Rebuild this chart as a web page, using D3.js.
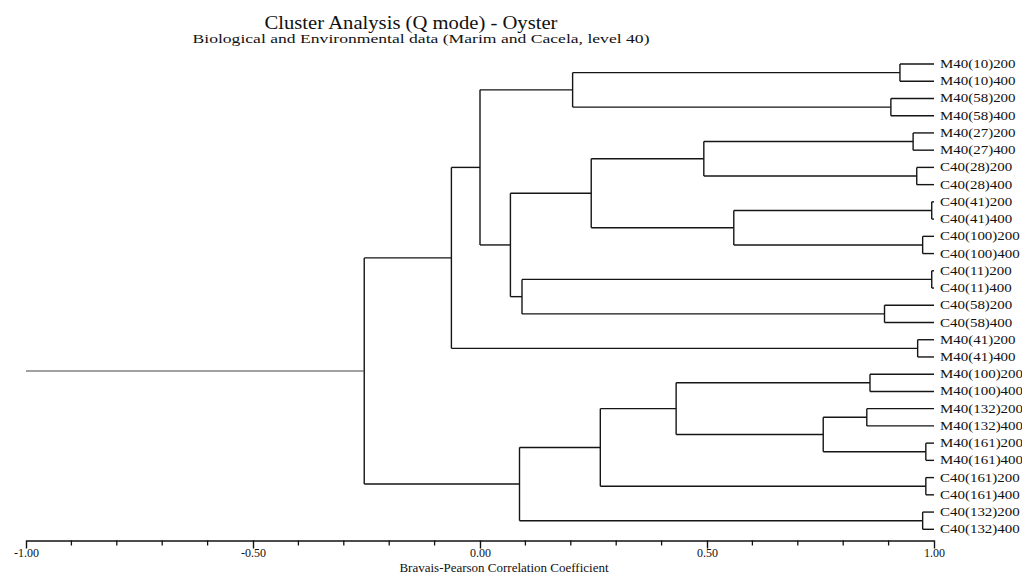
<!DOCTYPE html>
<html><head><meta charset="utf-8">
<script src="https://cdn.jsdelivr.net/npm/d3@7"></script>
<style>
html,body{margin:0;padding:0;background:#fff;}
text{font-family:"Liberation Serif","Times New Roman",serif;fill:#111;}
</style></head>
<body>
<svg id="chart" width="1022" height="580"></svg>
<script>
// ---- data ----
const title = "Cluster Analysis (Q mode) - Oyster";
const subtitle = "Biological and Environmental data (Marim and Cacela, level 40)";
const axisTitle = "Bravais-Pearson Correlation Coefficient";
const leaves = ["M40(10)200","M40(10)400","M40(58)200","M40(58)400","M40(27)200","M40(27)400",
  "C40(28)200","C40(28)400","C40(41)200","C40(41)400","C40(100)200","C40(100)400",
  "C40(11)200","C40(11)400","C40(58)200","C40(58)400","M40(41)200","M40(41)400",
  "M40(100)200","M40(100)400","M40(132)200","M40(132)400","M40(161)200","M40(161)400",
  "C40(161)200","C40(161)400","C40(132)200","C40(132)400"];
// merge i joins mergeA[i] and mergeB[i] (leaf name or "#k" = merge k) at correlation mergeLevel[i]
const mergeA = ["M40(10)200","M40(58)200","M40(27)200","C40(28)200","C40(41)200","C40(100)200",
  "C40(11)200","C40(58)200","M40(41)200","M40(100)200","M40(132)200","M40(161)200","C40(161)200","C40(132)200",
  "#0","#2","#4","#15","#6","#17","#14","#20","#10","#9","#23","#24","#21"];
const mergeB = ["M40(10)400","M40(58)400","M40(27)400","C40(28)400","C40(41)400","C40(100)400",
  "C40(11)400","C40(58)400","M40(41)400","M40(100)400","M40(132)400","M40(161)400","C40(161)400","C40(132)400",
  "#1","#3","#5","#16","#7","#18","#19","#8","#11","#22","#12","#13","#25"];
const mergeLevel = [0.925,0.905,0.954,0.962,0.995,0.975,0.995,0.891,0.964,0.859,0.852,0.982,0.982,0.975,
  0.204,0.493,0.559,0.245,0.0925,0.067,0.000,-0.063,0.756,0.432,0.265,0.087,-0.255];
const leafLevel = 1.0;
const rootStart = -1.0;
const majorTicks = [-1.0,-0.5,0.0,0.5,1.0];
const minorTicks = [-0.9,-0.8,-0.7,-0.6,-0.4,-0.3,-0.2,-0.1,0.1,0.2,0.3,0.4,0.6,0.7,0.8,0.9];

// ---- build tree ----
function build(ref){
  if (ref[0] === "#") {
    const k = +ref.slice(1);
    return {name: ref, level: mergeLevel[k], children: [build(mergeA[k]), build(mergeB[k])]};
  }
  return {name: ref, level: leafLevel};
}
const rootData = build("#" + (mergeLevel.length - 1));
const root = d3.hierarchy(rootData);

const svg = d3.select("#chart");
const x = d3.scaleLinear().domain([-1, 1]).range([26, 934]);
const y = d3.scalePoint().domain(leaves).range([64, 529.3]);

root.eachAfter(n => {
  if (!n.children) n.py = y(n.data.name);
  else n.py = d3.mean(n.children, c => c.py);
});

const g = svg.append("g").attr("fill","none").attr("stroke","#151515").attr("stroke-width",1.4);
root.each(n => {
  if (!n.children) return;
  const px = x(n.data.level);
  const [c1, c2] = n.children;
  g.append("line").attr("x1",px).attr("x2",px).attr("y1",c1.py).attr("y2",c2.py);
  n.children.forEach(c => {
    g.append("line").attr("x1",px).attr("x2",x(c.data.level)).attr("y1",c.py).attr("y2",c.py);
  });
});
// root stem
g.append("line").attr("x1",x(rootStart)).attr("x2",x(root.data.level))
  .attr("y1",root.py).attr("y2",root.py).attr("stroke","#444").attr("stroke-width",1.1);

// leaf labels
const lab = svg.append("g").attr("font-size","11.5px");
root.leaves().forEach(l => {
  const t = lab.append("text").attr("x", x(leafLevel) + 6).attr("y", l.py + 4).text(l.data.name);
  const w = t.node().getComputedTextLength();
  t.attr("textLength", w * 1.3).attr("lengthAdjust","spacingAndGlyphs");
});

// axis
const axisY = 540.5;
const ax = svg.append("g").attr("transform",`translate(0,${axisY})`)
  .call(d3.axisBottom(x).tickValues(majorTicks).tickSize(8).tickSizeOuter(0).tickPadding(0)
    .tickFormat(d => d.toFixed(2)));
ax.select(".domain").attr("stroke","#111").attr("stroke-width",1.4);
ax.selectAll(".tick line").attr("stroke","#111").attr("stroke-width",1.4);
ax.selectAll(".tick text").attr("font-family","Liberation Serif, serif").attr("font-size","12px").attr("fill","#111");
svg.append("g").attr("transform",`translate(0,${axisY})`)
  .selectAll("line").data(minorTicks).join("line")
  .attr("x1",d=>x(d)).attr("x2",d=>x(d)).attr("y1",0).attr("y2",5)
  .attr("stroke","#111").attr("stroke-width",1.3);

svg.append("text").attr("x",504).attr("y",572).attr("text-anchor","middle")
  .attr("font-size","13px").text(axisTitle);

// titles
svg.append("text").attr("x",411).attr("y",29).attr("text-anchor","middle")
  .attr("font-size","18px").attr("textLength",293).attr("lengthAdjust","spacingAndGlyphs").text(title);
svg.append("text").attr("x",421).attr("y",43).attr("text-anchor","middle")
  .attr("font-size","13px").attr("textLength",457).attr("lengthAdjust","spacingAndGlyphs").text(subtitle);
</script>
</body></html>
